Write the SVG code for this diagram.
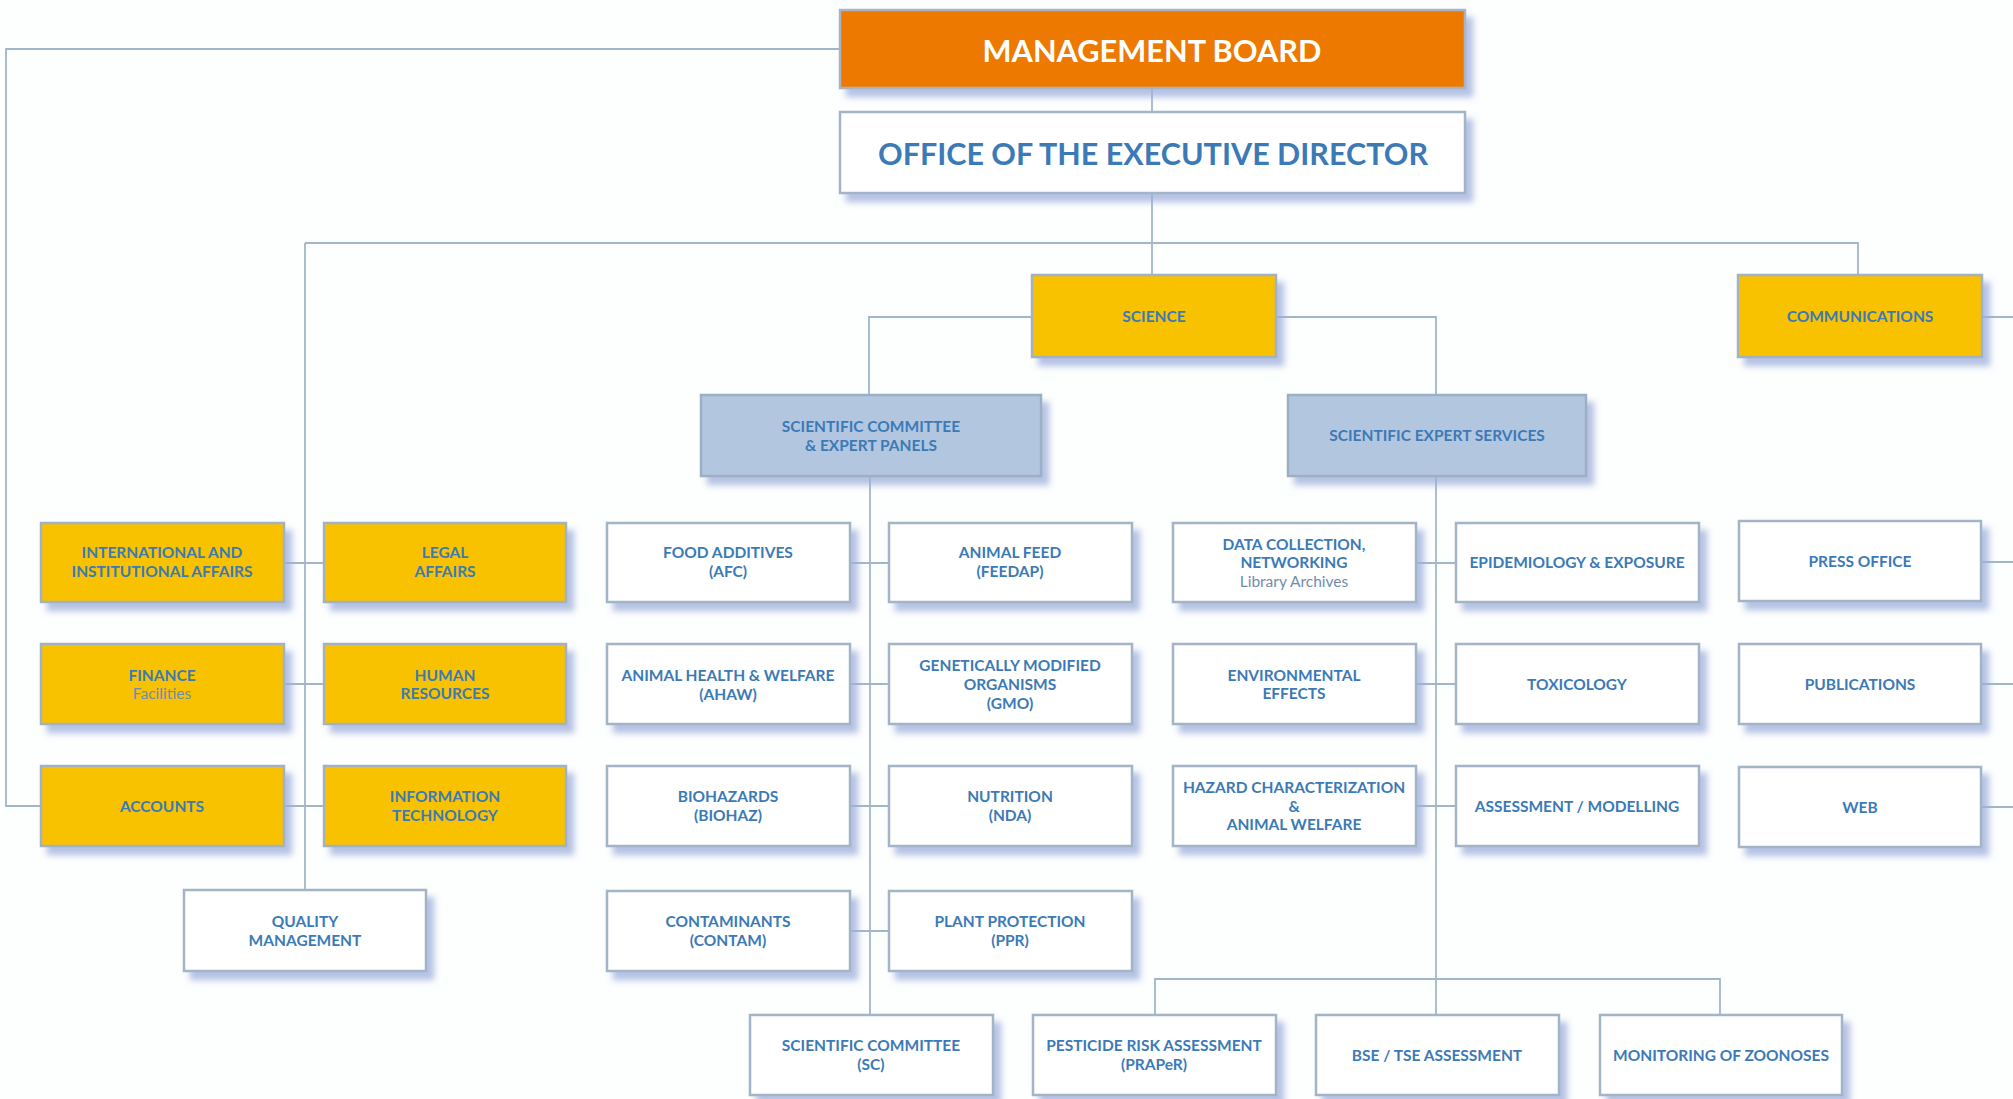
<svg xmlns="http://www.w3.org/2000/svg" width="2013" height="1099" viewBox="0 0 2013 1099">
<defs>
<filter id="sh" x="-10%" y="-20%" width="130%" height="150%">
<feGaussianBlur in="SourceAlpha" stdDeviation="3"/>
<feOffset dx="7" dy="8" result="b"/>
<feFlood flood-color="#9DAEDB" flood-opacity="0.75"/>
<feComposite in2="b" operator="in"/>
<feMerge><feMergeNode/><feMergeNode in="SourceGraphic"/></feMerge>
</filter>
<style>
.w{fill:#FFFFFF;stroke:#A3B4C7;stroke-width:2.5;filter:url(#sh)}
.y{fill:#F9C200;stroke:#A3B2C2;stroke-width:2.5;filter:url(#sh)}
.o{fill:#ED7902;stroke:#A8B4C4;stroke-width:2.5;filter:url(#sh)}
.b{fill:#B3C6E0;stroke:#9CB0C4;stroke-width:2.5;filter:url(#sh)}
text{font-family:Lato,"Open Sans","Liberation Sans",sans-serif;font-weight:700;font-size:15.5px;fill:#3B7AB6;text-anchor:middle}
.sub{font-weight:400;fill:#6F8CB0}
.big{font-size:31px}
.wt{fill:#FFFFFF}
.c{fill:none;stroke:#A2B6CA;stroke-width:1.8}
</style>
</defs>
<rect width="2013" height="1099" fill="#FDFEFE"/>
<g id="connectors" class="c">
<path d="M840 49H6V806H41"/>
<path d="M1152 88V112"/>
<path d="M1152 193V275"/>
<path d="M305 243H1858V275"/>
<path d="M305 243V890"/>
<path d="M284 563H324M284 684H324M284 806H324"/>
<path d="M1032 317H869V395"/>
<path d="M1276 317H1436V395"/>
<path d="M870 476V1015"/>
<path d="M850 563H889M850 684H889M850 806H889M850 931H889"/>
<path d="M1436 476V1015"/>
<path d="M1416 563H1456M1416 684H1456M1416 806H1456"/>
<path d="M1155 1015V979H1720V1015"/>
<path d="M1982 317H2013M1981 562H2013M1981 684H2013M1981 807H2013"/>
</g>
<g id="management-board"><rect class="o" x="840" y="10" width="625" height="78"/><text class="big wt" x="1152" y="62" textLength="339" lengthAdjust="spacingAndGlyphs">MANAGEMENT BOARD</text></g>
<g id="office-executive-director"><rect class="w" x="840" y="112" width="625" height="81"/><text class="big" x="1153" y="165" textLength="550" lengthAdjust="spacingAndGlyphs">OFFICE OF THE EXECUTIVE DIRECTOR</text></g>
<g id="science"><rect class="y" x="1032" y="275" width="244" height="82"/><text x="1154" y="322">SCIENCE</text></g>
<g id="communications"><rect class="y" x="1738" y="275" width="244" height="82"/><text x="1860" y="322">COMMUNICATIONS</text></g>
<g id="sci-committee-panels"><rect class="b" x="701" y="395" width="340" height="81"/><text x="871" y="432">SCIENTIFIC COMMITTEE</text><text x="871" y="451">&amp; EXPERT PANELS</text></g>
<g id="sci-expert-services"><rect class="b" x="1288" y="395" width="298" height="81"/><text x="1437" y="441">SCIENTIFIC EXPERT SERVICES</text></g>

<g id="intl-affairs"><rect class="y" x="41" y="523" width="243" height="79"/><text x="162" y="558">INTERNATIONAL AND</text><text x="162" y="577">INSTITUTIONAL AFFAIRS</text></g>
<g id="legal-affairs"><rect class="y" x="324" y="523" width="242" height="79"/><text x="445" y="558">LEGAL</text><text x="445" y="577">AFFAIRS</text></g>
<g id="finance"><rect class="y" x="41" y="644" width="243" height="80"/><text x="162" y="681">FINANCE</text><text class="sub" x="162" y="699">Facilities</text></g>
<g id="human-resources"><rect class="y" x="324" y="644" width="242" height="80"/><text x="445" y="681">HUMAN</text><text x="445" y="699">RESOURCES</text></g>
<g id="accounts"><rect class="y" x="41" y="766" width="243" height="80"/><text x="162" y="812">ACCOUNTS</text></g>
<g id="information-technology"><rect class="y" x="324" y="766" width="242" height="80"/><text x="445" y="802">INFORMATION</text><text x="445" y="821">TECHNOLOGY</text></g>
<g id="quality-management"><rect class="w" x="184" y="890" width="242" height="81"/><text x="305" y="927">QUALITY</text><text x="305" y="946">MANAGEMENT</text></g>

<g id="food-additives"><rect class="w" x="607" y="523" width="243" height="79"/><text x="728" y="558">FOOD ADDITIVES</text><text x="728" y="577">(AFC)</text></g>
<g id="animal-feed"><rect class="w" x="889" y="523" width="243" height="79"/><text x="1010" y="558">ANIMAL FEED</text><text x="1010" y="577">(FEEDAP)</text></g>
<g id="animal-health"><rect class="w" x="607" y="644" width="243" height="80"/><text x="728" y="681">ANIMAL HEALTH &amp; WELFARE</text><text x="728" y="700">(AHAW)</text></g>
<g id="gmo"><rect class="w" x="889" y="644" width="243" height="80"/><text x="1010" y="671">GENETICALLY MODIFIED</text><text x="1010" y="690">ORGANISMS</text><text x="1010" y="709">(GMO)</text></g>
<g id="biohazards"><rect class="w" x="607" y="766" width="243" height="80"/><text x="728" y="802">BIOHAZARDS</text><text x="728" y="821">(BIOHAZ)</text></g>
<g id="nutrition"><rect class="w" x="889" y="766" width="243" height="80"/><text x="1010" y="802">NUTRITION</text><text x="1010" y="821">(NDA)</text></g>
<g id="contaminants"><rect class="w" x="607" y="891" width="243" height="80"/><text x="728" y="927">CONTAMINANTS</text><text x="728" y="946">(CONTAM)</text></g>
<g id="plant-protection"><rect class="w" x="889" y="891" width="243" height="80"/><text x="1010" y="927">PLANT PROTECTION</text><text x="1010" y="946">(PPR)</text></g>

<g id="data-collection"><rect class="w" x="1173" y="523" width="243" height="79"/><text x="1294" y="550">DATA  COLLECTION,</text><text x="1294" y="568">NETWORKING</text><text class="sub" x="1294" y="587">Library Archives</text></g>
<g id="epidemiology"><rect class="w" x="1456" y="523" width="243" height="79"/><text x="1577" y="568">EPIDEMIOLOGY &amp; EXPOSURE</text></g>
<g id="press-office"><rect class="w" x="1739" y="521" width="242" height="80"/><text x="1860" y="567">PRESS OFFICE</text></g>
<g id="environmental-effects"><rect class="w" x="1173" y="644" width="243" height="80"/><text x="1294" y="681">ENVIRONMENTAL</text><text x="1294" y="699">EFFECTS</text></g>
<g id="toxicology"><rect class="w" x="1456" y="644" width="243" height="80"/><text x="1577" y="690">TOXICOLOGY</text></g>
<g id="publications"><rect class="w" x="1739" y="644" width="242" height="80"/><text x="1860" y="690">PUBLICATIONS</text></g>
<g id="hazard-characterization"><rect class="w" x="1173" y="766" width="243" height="80"/><text x="1294" y="793">HAZARD CHARACTERIZATION</text><text x="1294" y="812">&amp;</text><text x="1294" y="830">ANIMAL WELFARE</text></g>
<g id="assessment-modelling"><rect class="w" x="1456" y="766" width="243" height="80"/><text x="1577" y="812">ASSESSMENT / MODELLING</text></g>
<g id="web"><rect class="w" x="1739" y="767" width="242" height="80"/><text x="1860" y="813">WEB</text></g>

<g id="scientific-committee"><rect class="w" x="750" y="1015" width="243" height="80"/><text x="871" y="1051">SCIENTIFIC COMMITTEE</text><text x="871" y="1070">(SC)</text></g>
<g id="praper"><rect class="w" x="1033" y="1015" width="243" height="80"/><text x="1154" y="1051">PESTICIDE RISK ASSESSMENT</text><text x="1154" y="1070">(PRAPeR)</text></g>
<g id="bse-tse"><rect class="w" x="1316" y="1015" width="243" height="80"/><text x="1437" y="1061">BSE / TSE ASSESSMENT</text></g>
<g id="zoonoses"><rect class="w" x="1600" y="1015" width="242" height="80"/><text x="1721" y="1061">MONITORING OF ZOONOSES</text></g>
</svg>
